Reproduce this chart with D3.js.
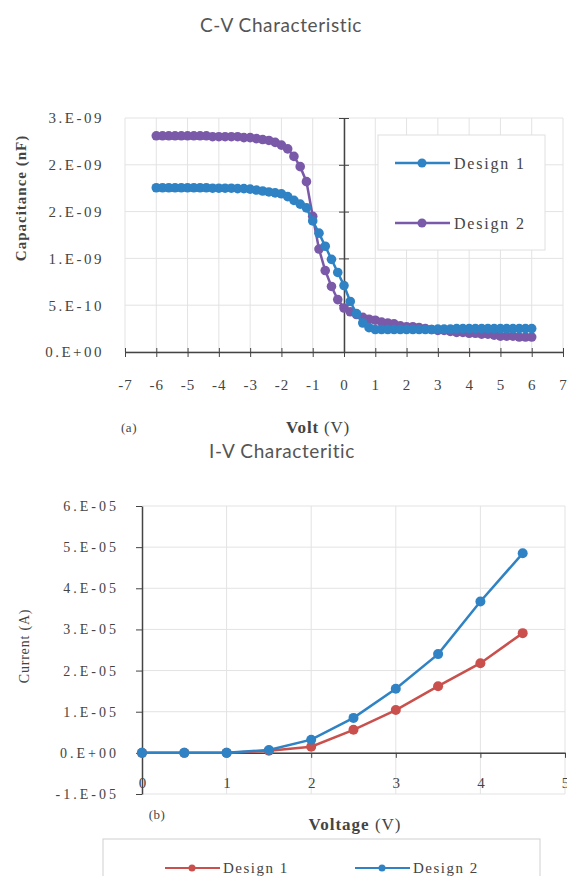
<!DOCTYPE html>
<html><head><meta charset="utf-8">
<script src="https://cdn.jsdelivr.net/npm/d3@7"></script>
<style>
body{margin:0;background:#fff;}
svg{display:block;}
.tl{font-family:"Liberation Serif",serif;font-size:15px;fill:#444;letter-spacing:2.5px;}
.ttl{font-family:Lato,"Open Sans",sans-serif;font-size:19px;fill:#555;letter-spacing:0.6px;}
</style></head><body>
<script>
// ---------- C-V data ----------
const cvVolt = [-6.0,-5.8,-5.6,-5.4,-5.2,-5.0,-4.8,-4.6,-4.4,-4.2,-4.0,-3.8,-3.6,-3.4,-3.2,-3.0,-2.8,-2.6,-2.4,-2.2,-2.0,-1.8,-1.6,-1.4,-1.2,-1.0,-0.8,-0.6,-0.4,-0.2,0.0,0.2,0.4,0.6,0.8,1.0,1.2,1.4,1.6,1.8,2.0,2.2,2.4,2.6,2.8,3.0,3.2,3.4,3.6,3.8,4.0,4.2,4.4,4.6,4.8,5.0,5.2,5.4,5.6,5.8,6.0];
// capacitance in units of 1e-9
const cvDesign1 = [1.755,1.755,1.755,1.755,1.755,1.755,1.755,1.755,1.755,1.75,1.75,1.75,1.75,1.745,1.745,1.74,1.73,1.72,1.71,1.70,1.69,1.66,1.62,1.58,1.54,1.40,1.27,1.13,0.99,0.85,0.71,0.54,0.41,0.31,0.26,0.24,0.24,0.24,0.24,0.24,0.24,0.24,0.24,0.24,0.24,0.245,0.245,0.245,0.25,0.25,0.25,0.25,0.25,0.25,0.25,0.25,0.25,0.25,0.25,0.25,0.25];
const cvDesign2 = [2.31,2.31,2.31,2.31,2.31,2.31,2.31,2.31,2.31,2.30,2.30,2.30,2.30,2.30,2.29,2.29,2.28,2.27,2.26,2.24,2.21,2.17,2.09,1.98,1.82,1.45,1.10,0.87,0.70,0.56,0.47,0.43,0.40,0.37,0.35,0.34,0.32,0.31,0.30,0.28,0.27,0.27,0.26,0.25,0.24,0.23,0.23,0.22,0.21,0.21,0.20,0.20,0.19,0.19,0.18,0.17,0.17,0.17,0.16,0.16,0.16];
const cvXTicks = [-7,-6,-5,-4,-3,-2,-1,0,1,2,3,4,5,6,7];
const cvXLabels = ["-7","-6","-5","-4","-3","-2","-1","0","1","2","3","4","5","6","7"];
const cvYTicks = [0,0.5,1.0,1.5,2.0,2.5];
const cvYLabels = ["0.E+00","5.E-10","1.E-09","2.E-09","2.E-09","3.E-09"];
const cvSeries = ["Design 1","Design 2"];

// ---------- I-V data ----------
const ivVolt = [0,0.5,1.0,1.5,2.0,2.5,3.0,3.5,4.0,4.5];
// current in units of 1e-5 A
const ivDesign1 = [0,0,0,0.05,0.15,0.56,1.04,1.62,2.18,2.91];
const ivDesign2 = [0,0,0,0.07,0.32,0.85,1.56,2.40,3.68,4.85];
const ivXTicks = [0,1,2,3,4,5];
const ivXLabels = ["0","1","2","3","4","5"];
const ivYTicks = [-1,0,1,2,3,4,5,6];
const ivYLabels = ["-1.E-05","0.E+00","1.E-05","2.E-05","3.E-05","4.E-05","5.E-05","6.E-05"];
const ivSeries = ["Design 1","Design 2"];

const W=567,H=876;
const svg=d3.select("body").append("svg").attr("width",W).attr("height",H);
const grid="#e3e3e3", axisC="#444";

// ================= C-V chart =================
const BLUE="#2f83c4", PURPLE="#7a5aa8";
const x1=d3.scaleLinear().domain([-7,7]).range([125,563]);
const y1=d3.scaleLinear().domain([0,2.5]).range([352,118]);
const g1=svg.append("g");
g1.selectAll(".vg").data(cvXTicks).join("line").attr("x1",d=>x1(d)).attr("x2",d=>x1(d))
  .attr("y1",y1(2.5)).attr("y2",y1(0)).attr("stroke",grid);
g1.selectAll(".hg").data(cvYTicks).join("line").attr("x1",x1(-7)).attr("x2",x1(7))
  .attr("y1",d=>y1(d)).attr("y2",d=>y1(d)).attr("stroke",grid);
const ax1=g1.append("g").attr("transform",`translate(0,${y1(0)})`)
  .call(d3.axisBottom(x1).tickValues(cvXTicks).tickFormat("").tickSizeOuter(0).tickSizeInner(5));
ax1.selectAll("line").attr("y1",-4).attr("y2",5).attr("stroke",axisC);
ax1.select(".domain").attr("stroke",axisC).attr("stroke-width",1.5);
g1.append("g").attr("transform",`translate(0,${y1(0)+33})`)
  .call(d3.axisBottom(x1).tickValues(cvXTicks).tickFormat((d,i)=>cvXLabels[i]).tickSize(0))
  .call(g=>g.select(".domain").remove())
  .selectAll("text").attr("class","tl").style("letter-spacing","1px").attr("dy","0.32em").attr("y",0);
const ay1=g1.append("g").attr("transform",`translate(${x1(0)},0)`)
  .call(d3.axisLeft(y1).tickValues(cvYTicks).tickFormat("").tickSizeOuter(0));
ay1.selectAll("line").attr("x1",-5).attr("x2",5).attr("stroke",axisC);
ay1.select(".domain").attr("stroke",axisC).attr("stroke-width",1.5);
g1.append("g").attr("transform",`translate(104,0)`)
  .call(d3.axisLeft(y1).tickValues(cvYTicks).tickFormat((d,i)=>cvYLabels[i]).tickSize(0).tickPadding(0))
  .call(g=>g.select(".domain").remove())
  .selectAll("text").attr("class","tl");
const cvData=[cvDesign1,cvDesign2], cvCol=[BLUE,PURPLE];
const line1=d3.line().x((d,i)=>x1(cvVolt[i])).y(d=>y1(d));
[1,0].forEach(k=>{
  g1.append("path").attr("d",line1(cvData[k])).attr("fill","none").attr("stroke",cvCol[k]).attr("stroke-width",2.5);
  g1.selectAll(null).data(cvData[k]).join("circle").attr("cx",(d,i)=>x1(cvVolt[i])).attr("cy",d=>y1(d))
    .attr("r",4.8).attr("fill",cvCol[k]);
});
g1.append("rect").attr("x",378).attr("y",135).attr("width",167).attr("height",115)
  .attr("fill","#fff").attr("stroke","#e0e0e0");
cvSeries.forEach((s,i)=>{
  const yy=163+i*60;
  g1.append("line").attr("x1",395).attr("x2",450).attr("y1",yy).attr("y2",yy).attr("stroke",cvCol[i]).attr("stroke-width",2.5);
  g1.append("circle").attr("cx",422).attr("cy",yy).attr("r",4.5).attr("fill",cvCol[i]);
  g1.append("text").attr("x",454).attr("y",yy).attr("dy","0.35em").attr("class","tl").style("font-size","16px").style("letter-spacing","1.8px").text(s);
});
svg.append("text").attr("x",281).attr("y",32).attr("text-anchor","middle").attr("class","ttl").text("C-V Characteristic");
svg.append("text").attr("transform","translate(26,198) rotate(-90)").attr("text-anchor","middle")
  .attr("class","tl").style("font-weight","bold").style("font-size","15px").style("letter-spacing","1px").text("Capacitance (nF)");
const vt=svg.append("text").attr("x",318).attr("y",433).attr("text-anchor","middle").attr("class","tl").style("font-size","17px").style("letter-spacing","0.8px");
vt.append("tspan").style("font-weight","bold").text("Volt");
vt.append("tspan").text(" (V)");
svg.append("text").attr("x",129).attr("y",432).attr("text-anchor","middle").attr("class","tl").style("font-size","13px").style("letter-spacing","0.5px").text("(a)");
svg.append("text").attr("x",282).attr("y",458).attr("text-anchor","middle").attr("class","ttl").text("I-V Characteritic");

// ================= I-V chart =================
const RED="#c9504c", BLUE2="#2f83c4";
const x2=d3.scaleLinear().domain([0,5]).range([142,565]);
const y2=d3.scaleLinear().domain([-1,6]).range([794,506]);
const g2=svg.append("g");
g2.selectAll(".vg").data(ivXTicks.slice(1)).join("line").attr("x1",d=>x2(d)).attr("x2",d=>x2(d))
  .attr("y1",y2(6)).attr("y2",y2(-1)).attr("stroke",grid);
g2.selectAll(".hg").data(ivYTicks).join("line").attr("x1",x2(0)).attr("x2",x2(5))
  .attr("y1",d=>y2(d)).attr("y2",d=>y2(d)).attr("stroke",grid);
const ay2=g2.append("g").attr("transform",`translate(${x2(0)},0)`)
  .call(d3.axisLeft(y2).tickValues(ivYTicks).tickFormat("").tickSizeOuter(0).tickSizeInner(6));
ay2.selectAll("line").attr("stroke",axisC);
ay2.select(".domain").attr("stroke",axisC).attr("stroke-width",1.5);
g2.append("g").attr("transform",`translate(119,0)`)
  .call(d3.axisLeft(y2).tickValues(ivYTicks).tickFormat((d,i)=>ivYLabels[i]).tickSize(0).tickPadding(0))
  .call(g=>g.select(".domain").remove())
  .selectAll("text").attr("class","tl").style("font-size","14px").style("letter-spacing","3px");
const ax2=g2.append("g").attr("transform",`translate(0,${y2(0)})`)
  .call(d3.axisBottom(x2).tickValues(ivXTicks).tickFormat("").tickSizeOuter(0).tickSizeInner(5));
ax2.selectAll("line").attr("stroke",axisC);
ax2.select(".domain").attr("stroke",axisC).attr("stroke-width",1.5);
g2.append("g").attr("transform",`translate(0,${y2(0)+30})`)
  .call(d3.axisBottom(x2).tickValues(ivXTicks).tickFormat((d,i)=>ivXLabels[i]).tickSize(0))
  .call(g=>g.select(".domain").remove())
  .selectAll("text").attr("class","tl").style("letter-spacing","0px").attr("dy","0.32em").attr("y",0);
const ivData=[ivDesign1,ivDesign2], ivCol=[RED,BLUE2];
const line2=d3.line().x((d,i)=>x2(ivVolt[i])).y(d=>y2(d));
[0,1].forEach(k=>{
  g2.append("path").attr("d",line2(ivData[k])).attr("fill","none").attr("stroke",ivCol[k]).attr("stroke-width",2.5);
  g2.selectAll(null).data(ivData[k]).join("circle").attr("cx",(d,i)=>x2(ivVolt[i])).attr("cy",d=>y2(d))
    .attr("r",5).attr("fill",ivCol[k]);
});
svg.append("text").attr("transform","translate(29,646) rotate(-90)").attr("text-anchor","middle")
  .attr("class","tl").style("font-size","14px").style("letter-spacing","0.8px").text("Current (A)");
svg.append("text").attr("x",157).attr("y",819).attr("text-anchor","middle").attr("class","tl").style("font-size","13px").style("letter-spacing","0.5px").text("(b)");
const vt2=svg.append("text").attr("x",355).attr("y",830).attr("text-anchor","middle").attr("class","tl").style("font-size","17px").style("letter-spacing","1px");
vt2.append("tspan").style("font-weight","bold").text("Voltage");
vt2.append("tspan").text(" (V)");
svg.append("rect").attr("x",103).attr("y",839).attr("width",437).attr("height",60).attr("fill","#fff").attr("stroke","#d0d0d0");
ivSeries.forEach((s,i)=>{
  const x0=[165,355][i], yy=868;
  svg.append("line").attr("x1",x0).attr("x2",x0+55).attr("y1",yy).attr("y2",yy).attr("stroke",ivCol[i]).attr("stroke-width",2);
  svg.append("circle").attr("cx",x0+27).attr("cy",yy).attr("r",3.5).attr("fill",ivCol[i]);
  svg.append("text").attr("x",x0+58).attr("y",yy).attr("dy","0.35em").attr("class","tl").style("font-size","15px").style("letter-spacing","1.5px").text(s);
});
</script>
</body></html>
